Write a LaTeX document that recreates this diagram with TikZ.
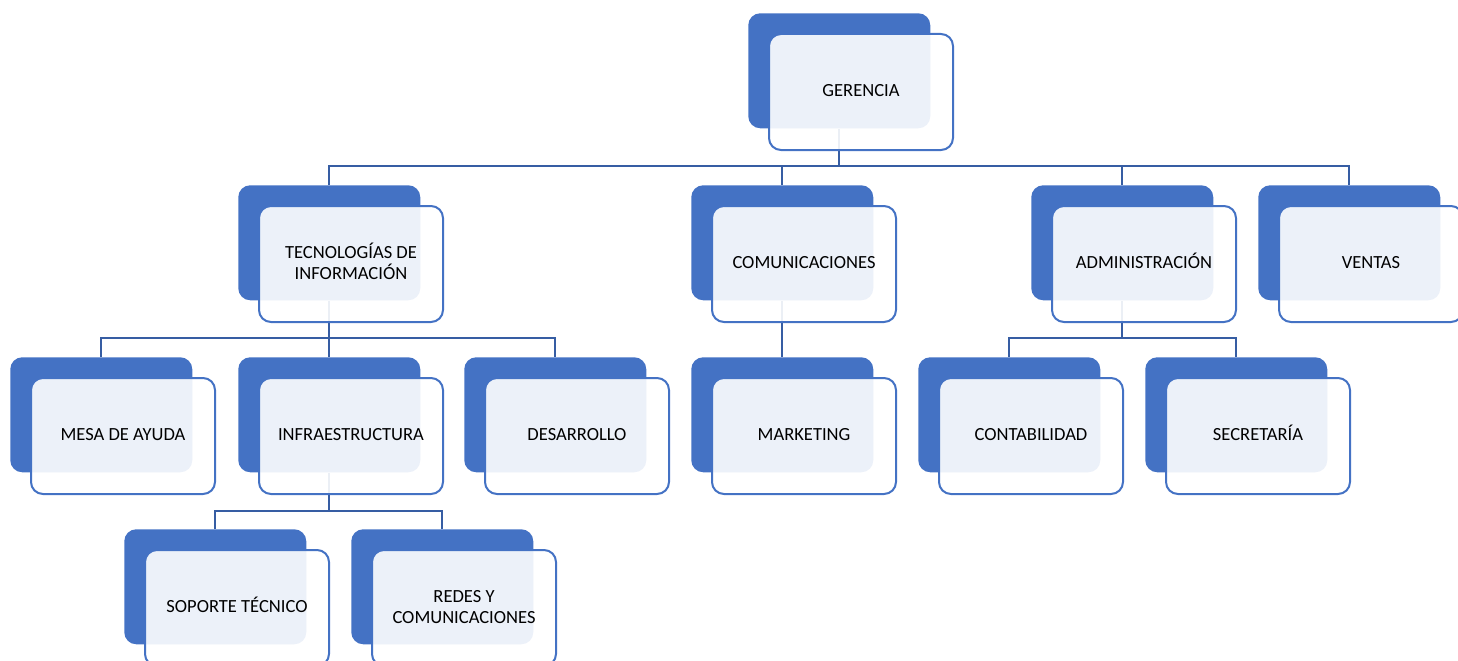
\documentclass[tikz,border=0pt]{standalone}
\usepackage{fontspec}
\setmainfont{Carlito}
\definecolor{backblue}{HTML}{4472C4}
\definecolor{lineblue}{HTML}{365DA3}
\newcommand{\tl}[1]{\rule[-2pt]{0pt}{11pt}\smash{#1}}
\tikzset{
  backbox/.style={fill=backblue, draw=none, rounded corners=9pt, minimum width=136.5pt, minimum height=86.25pt, inner sep=0pt, anchor=north west},
  frontbox/.style={fill=white, fill opacity=0.9, text opacity=1, draw=backblue, line width=1.5pt, rounded corners=9pt, minimum width=138pt, minimum height=87pt, inner sep=0pt, anchor=north west, align=center, text=black, font=\fontsize{13.9}{15.8}\selectfont},
  conn/.style={draw=lineblue, line width=1.6pt}
}
\newcommand{\backunit}[3]{\node[backbox] (#1b) at (#2,#3) {};}
\newcommand{\frontunit}[4]{\node[frontbox] (#1) at (#2+20,#3+20) {#4};}
\begin{document}
\begin{tikzpicture}[x=0.75pt,y=-0.75pt]
\useasboundingbox (0,0) rectangle (1458,660);
% back shapes
\backunit{ger}{748}{13}
\backunit{ti}{238}{185}
\backunit{com}{691}{185}
\backunit{adm}{1031}{185}
\backunit{ven}{1258}{185}
\backunit{mesa}{10}{357}
\backunit{infra}{238}{357}
\backunit{des}{464}{357}
\backunit{mkt}{691}{357}
\backunit{cont}{918}{357}
\backunit{sec}{1145}{357}
\backunit{sop}{124}{529}
\backunit{red}{351}{529}
% bus coordinates
\coordinate (bus1) at (839,166);
\coordinate (bus2) at (329,338);
\coordinate (bus3) at (1122,338);
\coordinate (bus4) at (329,511);
% connectors
\draw[conn] (gerb.south) -- (gerb.south |- bus1);
\draw[conn] (tib.north) -- (tib.north |- bus1) -- (venb.north |- bus1) -- (venb.north);
\draw[conn] (comb.north) -- (comb.north |- bus1);
\draw[conn] (admb.north) -- (admb.north |- bus1);
\draw[conn] (tib.south) -- (tib.south |- bus2);
\draw[conn] (mesab.north) -- (mesab.north |- bus2) -- (desb.north |- bus2) -- (desb.north);
\draw[conn] (infrab.north) -- (infrab.north |- bus2);
\draw[conn] (comb.south) -- (mktb.north);
\draw[conn] (admb.south) -- (admb.south |- bus3);
\draw[conn] (contb.north) -- (contb.north |- bus3) -- (secb.north |- bus3) -- (secb.north);
\draw[conn] (infrab.south) -- (infrab.south |- bus4);
\draw[conn] (sopb.north) -- (sopb.north |- bus4) -- (redb.north |- bus4) -- (redb.north);
% front shapes
\frontunit{ger}{748}{13}{\tl{GERENCIA}}
\frontunit{ti}{238}{185}{\tl{TECNOLOGÍAS DE}\\\tl{INFORMACIÓN}}
\frontunit{com}{691}{185}{\tl{COMUNICACIONES}}
\frontunit{adm}{1031}{185}{\tl{ADMINISTRACIÓN}}
\frontunit{ven}{1258}{185}{\tl{VENTAS}}
\frontunit{mesa}{10}{357}{\tl{MESA DE AYUDA}}
\frontunit{infra}{238}{357}{\tl{INFRAESTRUCTURA}}
\frontunit{des}{464}{357}{\tl{DESARROLLO}}
\frontunit{mkt}{691}{357}{\tl{MARKETING}}
\frontunit{cont}{918}{357}{\tl{CONTABILIDAD}}
\frontunit{sec}{1145}{357}{\tl{SECRETARÍA}}
\frontunit{sop}{124}{529}{\tl{SOPORTE TÉCNICO}}
\frontunit{red}{351}{529}{\tl{REDES Y}\\\tl{COMUNICACIONES}}
\end{tikzpicture}
\end{document}
